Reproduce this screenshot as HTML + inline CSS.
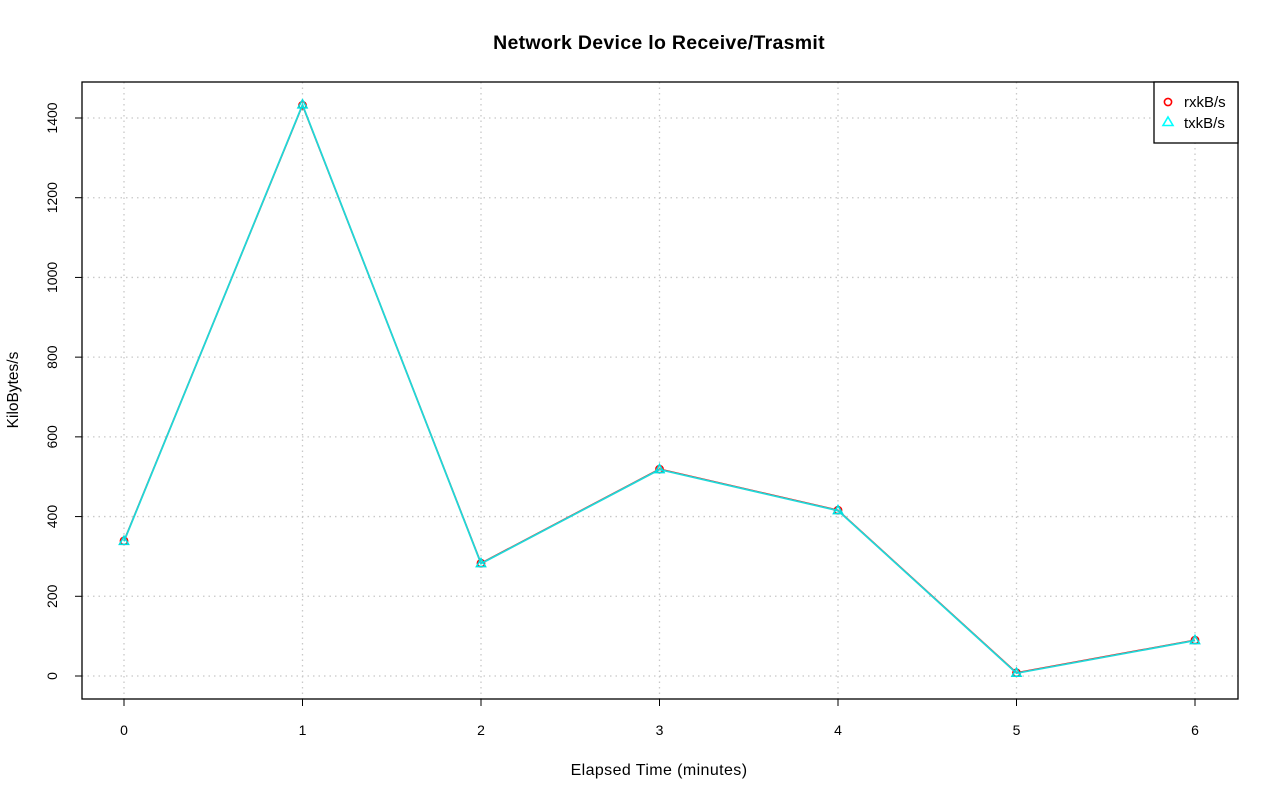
<!DOCTYPE html>
<html><head><meta charset="utf-8"><style>
html,body{margin:0;padding:0;background:#fff}
svg{display:block;font-family:"Liberation Sans",sans-serif}
</style></head><body>
<svg id="chart" width="1280" height="801" viewBox="0 0 1280 801" xmlns="http://www.w3.org/2000/svg">
<rect width="1280" height="801" fill="#fff"/>
<text x="659" y="49" text-anchor="middle" font-size="19.5" font-weight="bold" letter-spacing="0.3">Network Device lo Receive/Trasmit</text>
<g id="grid"></g>
<g id="axes"></g>
<g id="series"></g>
<rect x="82" y="82" width="1156" height="617" fill="none" stroke="#000" stroke-width="1.3"/>
<text x="659" y="775" text-anchor="middle" font-size="16" letter-spacing="0.4">Elapsed Time (minutes)</text>
<text transform="translate(18,390) rotate(-90)" text-anchor="middle" font-size="15.5">KiloBytes/s</text>
<g>
<rect x="1154" y="82" width="84" height="61" fill="#fff" stroke="#000" stroke-width="1.3"/>
<circle cx="1168" cy="102" r="3.6" fill="none" stroke="#ff0000" stroke-width="1.6"/>
<text x="1184" y="107" font-size="15">rxkB/s</text>
<polygon points="1168,117 1173,125.5 1163,125.5" fill="none" stroke="#00ffff" stroke-width="1.6"/>
<text x="1184" y="128" font-size="15">txkB/s</text>
</g>
</svg>
<script>
const minutes=[0,1,2,3,4,5,6];
const rxValues=[339,1432,283,519,416,8,90];
const txValues=[338,1433,282,518,415,7,89];
const xTicks=[0,1,2,3,4,5,6];
const yTicks=[0,200,400,600,800,1000,1200,1400];
const NS='http://www.w3.org/2000/svg';
function xs(v){return 124+v*(1195-124)/6;}
function ys(v){return 676-v*(676-118)/1400;}
function mk(p,t,a){const e=document.createElementNS(NS,t);for(const k in a)e.setAttribute(k,a[k]);p.appendChild(e);return e;}
const grid=document.getElementById('grid'),axes=document.getElementById('axes'),ser=document.getElementById('series');
xTicks.forEach(t=>{
 const g=mk(grid,'line',{x1:xs(t),x2:xs(t),y1:82,y2:699,stroke:'#c8c8c8','stroke-dasharray':'1.5,4','stroke-width':1.3});
 
 const k=mk(axes,'line',{x1:xs(t),x2:xs(t),y1:699,y2:706,stroke:'#000'});
 
 const l=mk(axes,'text',{x:xs(t),y:735,'text-anchor':'middle','font-size':14});l.textContent=t;
 
});
yTicks.forEach(t=>{
 const g=mk(grid,'line',{x1:82,x2:1238,y1:ys(t),y2:ys(t),stroke:'#c8c8c8','stroke-dasharray':'1.5,4','stroke-width':1.3});
 
 const k=mk(axes,'line',{x1:75,x2:82,y1:ys(t),y2:ys(t),stroke:'#000'});
 
 const l=mk(axes,'text',{transform:`translate(57,${ys(t)}) rotate(-90)`,'text-anchor':'middle','font-size':14});l.textContent=t;
 
});
function pts(v){return minutes.map((m,i)=>xs(m)+','+ys(v[i])).join(' ');}
const rl=mk(ser,'polyline',{points:pts(rxValues),fill:'none',stroke:'#ff0000','stroke-width':1.6});

minutes.forEach((m,i)=>{const c=mk(ser,'circle',{cx:xs(m),cy:ys(rxValues[i]),r:3.6,fill:'none',stroke:'#ff0000','stroke-width':1.6});
 });
const tl=mk(ser,'polyline',{points:pts(txValues),fill:'none',stroke:'#1fd8d8','stroke-width':1.8});

minutes.forEach((m,i)=>{const x=xs(m),y=ys(txValues[i]);
 const p=mk(ser,'polygon',{points:`${x},${y-5} ${x+4.5},${y+3} ${x-4.5},${y+3}`,fill:'none',stroke:'#00e0e0','stroke-width':1.6});
 });
</script>
</body></html>
